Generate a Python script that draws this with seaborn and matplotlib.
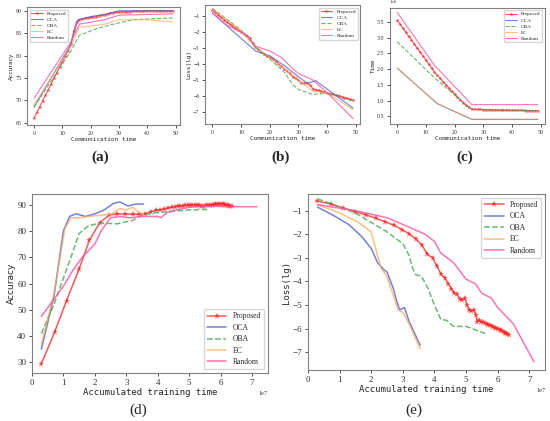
import numpy as np
import pandas as pd
import matplotlib
matplotlib.use('Agg')
import matplotlib.pyplot as plt
import seaborn as sns

# ---------------- data ----------------
methods = ['Proposed', 'OCA', 'OBA', 'EC', 'Random']
rounds = list(range(50))

# (a) accuracy vs communication time
acc_a_proposed = [66.0, 67.3, 68.6, 69.9, 71.1, 72.4, 73.6, 74.9, 76.1, 77.4,
                  78.6, 79.8, 81.0, 82.5, 85.5, 87.5, 88.0, 88.2, 88.3, 88.4,
                  88.5, 88.6, 88.7, 88.9, 89.0, 89.1, 89.3, 89.5, 89.6, 89.7,
                  89.7, 89.8, 89.8, 89.8, 89.8, 89.9, 89.9, 89.9, 89.9, 89.9,
                  90.0, 90.0, 90.0, 90.0, 90.0, 90.0, 90.0, 90.0, 90.0, 90.0]
acc_a_x = {'OCA': [0, 13, 15.5, 20, 25, 30, 49],
           'OBA': [0, 13, 16, 22, 28, 35, 49],
           'EC': [0, 13, 16, 25, 30, 40, 49],
           'Random': [0, 13, 16, 25, 30, 49]}
acc_a_y = {'OCA': [68.5, 82.5, 88.0, 88.7, 89.2, 90.0, 90.0],
           'OBA': [68.5, 81.0, 84.5, 86.0, 87.0, 88.0, 88.4],
           'EC': [69.0, 82.0, 86.3, 87.0, 88.0, 88.0, 87.5],
           'Random': [70.5, 83.0, 87.0, 88.0, 89.0, 89.3]}

# (b) loss vs communication time
loss_b_proposed = [-0.65, -0.8, -0.95, -1.1, -1.25, -1.4, -1.52, -1.65, -1.78, -1.9,
                   -2.0, -2.12, -2.25, -2.4, -2.7, -2.95, -3.1, -3.25, -3.4, -3.5,
                   -3.6, -3.7, -3.85, -4.0, -4.15, -4.3, -4.45, -4.6, -4.8, -4.9,
                   -5.0, -5.2, -5.2, -5.2, -5.3, -5.55, -5.6, -5.65, -5.7, -5.75,
                   -5.8, -5.85, -5.9, -5.95, -6.0, -6.05, -6.1, -6.15, -6.2, -6.25]
loss_b_x = {'OCA': [0, 15, 20, 25, 30, 33, 36, 49],
            'OBA': [0, 10, 15, 20, 25, 28, 30, 35, 40, 45, 49],
            'EC': [0, 10, 15, 20, 25, 30, 35, 40, 49],
            'Random': [0, 5, 12, 15, 20, 24, 28, 30, 35, 40, 49]}
loss_b_y = {'OCA': [-0.85, -3.2, -3.5, -4.1, -4.8, -5.2, -5.05, -6.75],
            'OBA': [-0.55, -1.9, -3.0, -3.7, -4.5, -5.3, -5.6, -5.9, -5.8, -6.0, -6.35],
            'EC': [-0.6, -1.95, -2.95, -3.6, -4.3, -5.0, -5.7, -5.8, -6.85],
            'Random': [-0.8, -1.6, -2.2, -2.9, -3.2, -3.6, -4.3, -4.6, -5.0, -5.8, -7.4]}

# (c) time (1e6) vs communication time
time_c_proposed = [3.55, 3.42, 3.30, 3.17, 3.04, 2.92, 2.79, 2.66, 2.54, 2.41,
                   2.28, 2.16, 2.03, 1.90, 1.80, 1.70, 1.60, 1.50, 1.40, 1.30,
                   1.20, 1.11, 1.02, 0.93, 0.85, 0.78, 0.73, 0.72, 0.72, 0.72,
                   0.71, 0.71, 0.71, 0.71, 0.70, 0.70, 0.70, 0.70, 0.70, 0.69,
                   0.69, 0.69, 0.69, 0.69, 0.69, 0.68, 0.68, 0.68, 0.68, 0.68]
time_c_x = {'OCA': [0, 14, 26, 49],
            'OBA': [0, 13, 26, 49],
            'EC': [0, 14, 26, 49],
            'Random': [0, 13, 26, 49]}
time_c_y = {'OCA': [2.03, 0.90, 0.40, 0.40],
            'OBA': [2.87, 1.72, 0.72, 0.68],
            'EC': [2.04, 0.91, 0.41, 0.41],
            'Random': [3.80, 2.12, 0.87, 0.87]}

# accumulated training time (1e7) of each Proposed round, shared by (d) and (e)
proposed_acc_time = [0.30, 0.72, 1.10, 1.50, 1.83, 2.15, 2.45, 2.72, 2.97, 3.20,
                     3.41, 3.60, 3.78, 3.94, 4.08, 4.21, 4.33, 4.44, 4.54, 4.63,
                     4.72, 4.80, 4.88, 4.96, 5.03, 5.10, 5.17, 5.24, 5.30, 5.36,
                     5.42, 5.48, 5.54, 5.60, 5.66, 5.71, 5.76, 5.81, 5.86, 5.91,
                     5.96, 6.01, 6.06, 6.11, 6.15, 6.19, 6.23, 6.27, 6.31, 6.35]

# (d) accuracy vs accumulated training time (1e7)
acc_d_proposed = [29.5, 41.5, 53.5, 65.5, 76.5, 83.0, 86.0, 86.5, 86.4, 86.3,
                  86.3, 86.6, 87.3, 87.8, 88.0, 88.3, 88.7, 89.0, 89.2, 89.4,
                  89.5, 89.6, 89.7, 89.8, 89.9, 90.0, 90.0, 89.9, 89.8, 89.6,
                  89.5, 89.6, 89.7, 89.8, 89.9, 90.0, 90.0, 90.1, 90.2, 90.3,
                  90.3, 90.4, 90.3, 90.2, 90.0, 89.9, 89.7, 89.6, 89.5, 89.4]
acc_d_x = {'OCA': [0.3, 0.7, 1.0, 1.2, 1.4, 1.7, 2.0, 2.3, 2.6, 2.8, 3.05, 3.3, 3.55],
           'OBA': [0.3, 0.7, 1.0, 1.3, 1.5, 1.8, 2.2, 2.7, 3.2, 3.5, 4.0, 4.5, 5.0, 5.5, 5.65],
           'EC': [0.3, 0.7, 1.05, 1.25, 1.5, 1.8, 2.2, 2.5, 2.8, 3.0, 3.2, 3.4, 3.55],
           'Random': [0.3, 0.7, 1.0, 1.3, 1.6, 2.0, 2.2, 2.5, 2.8, 3.1, 3.5, 4.0, 4.1,
                      4.3, 4.6, 5.0, 5.5, 6.0, 6.5, 7.15]}
acc_d_y = {'OCA': [35.0, 55.0, 80.0, 85.5, 86.5, 85.5, 86.5, 88.0, 90.5, 91.0, 89.5, 90.2, 90.2],
           'OBA': [41.0, 52.0, 62.0, 72.0, 79.0, 82.0, 83.0, 82.7, 84.0, 86.0, 87.0, 87.5,
                   88.0, 88.2, 88.0],
           'EC': [37.0, 56.0, 81.0, 85.0, 85.0, 85.5, 86.0, 86.2, 88.5, 88.0, 89.0, 87.0, 86.5],
           'Random': [47.5, 54.0, 59.0, 65.0, 70.0, 75.0, 80.0, 85.0, 85.5, 85.0, 85.5,
                      85.5, 85.0, 87.0, 88.0, 89.0, 89.5, 89.3, 89.2, 89.2]}

# (e) loss vs accumulated training time (1e7)
loss_e_proposed = [-0.60, -0.72, -0.88, -1.05, -1.18, -1.32, -1.48, -1.62, -1.80, -1.98,
                   -2.20, -2.45, -2.85, -3.00, -3.35, -3.70, -3.85, -4.10, -4.30, -4.50,
                   -4.55, -4.75, -4.80, -4.70, -5.00, -5.20, -5.25, -5.20, -5.40, -5.70,
                   -5.65, -5.70, -5.73, -5.76, -5.80, -5.83, -5.86, -5.89, -5.92, -5.95,
                   -5.98, -6.01, -6.04, -6.07, -6.10, -6.13, -6.16, -6.19, -6.22, -6.25]
loss_e_x = {'OCA': [0.3, 0.8, 1.3, 1.7, 2.0, 2.2, 2.4, 2.5, 2.7, 2.8, 2.9, 3.05, 3.2, 3.55],
            'OBA': [0.3, 1.0, 1.5, 2.0, 2.5, 3.0, 3.2, 3.3, 3.4, 3.6, 3.8, 4.0, 4.2, 4.4,
                    4.6, 5.0, 5.6],
            'EC': [0.3, 1.0, 1.6, 2.0, 2.1, 2.3, 2.5, 2.7, 2.85, 3.0, 3.2, 3.55],
            'Random': [0.3, 1.5, 2.5, 3.2, 3.7, 4.0, 4.2, 4.6, 5.0, 5.3, 5.5, 5.8, 6.0,
                       6.5, 7.15]}
loss_e_y = {'OCA': [-0.85, -1.2, -1.6, -2.1, -2.6, -3.2, -3.5, -3.6, -4.3, -4.8, -5.2,
                    -5.1, -5.7, -6.7],
            'OBA': [-0.5, -0.85, -1.1, -1.5, -1.9, -2.4, -2.9, -3.4, -3.7, -3.8, -4.3,
                    -5.0, -5.6, -5.65, -5.9, -5.9, -6.2],
            'EC': [-0.75, -1.1, -1.5, -1.9, -2.4, -3.4, -3.8, -4.6, -5.2, -5.3, -5.8, -6.85],
            'Random': [-0.75, -1.0, -1.3, -1.7, -2.0, -2.3, -2.8, -3.2, -3.9, -4.1, -4.5,
                       -4.7, -5.1, -5.8, -7.4]}

neg_labels = ['\u22121', '\u22122', '\u22123', '\u22124', '\u22125', '\u22126', '\u22127']

# ---------------- style ----------------
sns.set_style('ticks')
plt.rcParams['font.family'] = ['Liberation Serif', 'DejaVu Serif']

colors = {'Proposed': '#ff2020', 'OCA': '#4f63d2', 'OBA': '#3faa4f',
          'EC': '#ffa64d', 'Random': '#ff4fa3'}
styles = {'Proposed': '-', 'OCA': '-', 'OBA': '--', 'EC': '-', 'Random': '-'}
alphas = {'Proposed': 0.75, 'OCA': 0.8, 'OBA': 0.8, 'EC': 0.7, 'Random': 0.8}
mono = 'DejaVu Sans Mono'


def style_axes(ax, tick_size):
    for s in ax.spines.values():
        s.set_color('#808080')
        s.set_linewidth(0.8)
    ax.tick_params(colors='#333333', labelsize=tick_size, width=0.6, length=2.5,
                   direction='out', pad=1.5)


def draw_panel(ax, xs, ys, lw, ms, scale_x=1.0, scale_y=1.0):
    for m in methods:
        kw = dict(color=colors[m], linestyle=styles[m], alpha=alphas[m], lw=lw, label=m)
        if m == 'Proposed':
            kw.update(marker='*', markersize=ms, markeredgewidth=0)
        sns.lineplot(x=np.array(xs[m]) * scale_x, y=np.array(ys[m]) * scale_y, ax=ax,
                     sort=False, estimator=None, **kw)


def small_panel(ax, xs, ys, ylabel, ylabel_family, legend_loc, scale_y=1.0):
    draw_panel(ax, xs, ys, lw=0.8, ms=3, scale_y=scale_y)
    ax.set_xlim(-2.5, 51.5)
    ax.set_xticks([0, 10, 20, 30, 40, 50])
    ax.set_xlabel('Communication time', family=mono, fontsize=4.3, labelpad=1)
    ax.set_ylabel(ylabel, family=ylabel_family, fontsize=4.3, labelpad=1)
    style_axes(ax, 4.2)
    ax.legend(loc=legend_loc, fontsize=3.8, frameon=True, handlelength=2.2,
              borderpad=0.3, labelspacing=0.25)


def big_panel(ax, xs, ys, ylabel, ylabel_family, legend_loc):
    draw_panel(ax, xs, ys, lw=1.1, ms=5, scale_x=1e7)
    ax.set_xlim(0, 7.5e7)
    ax.set_xticks([i * 1e7 for i in range(8)])
    ax.set_xlabel('Accumulated training time', family=mono, fontsize=6.5, labelpad=1)
    ax.set_ylabel(ylabel, family=ylabel_family, fontsize=6.5, labelpad=1)
    style_axes(ax, 6.5)
    ax.xaxis.get_offset_text().set_fontsize(4.5)
    ax.legend(loc=legend_loc, fontsize=5.5, frameon=True, handlelength=2.6,
              borderpad=0.4, labelspacing=0.45)


fig = plt.figure(figsize=(5.5, 4.21), dpi=100)

# (a)
ax_a = fig.add_axes([0.049, 0.703, 0.278, 0.280])
small_panel(ax_a, {'Proposed': rounds, **acc_a_x}, {'Proposed': acc_a_proposed, **acc_a_y},
            'Accuracy', 'DejaVu Sans', 'upper left')
ax_a.set_ylim(64.5, 90.8)
ax_a.set_yticks([65, 70, 75, 80, 85, 90])

# (b)
ax_b = fig.add_axes([0.373, 0.705, 0.282, 0.283])
small_panel(ax_b, {'Proposed': rounds, **loss_b_x}, {'Proposed': loss_b_proposed, **loss_b_y},
            'Loss(lg)', mono, 'upper right')
ax_b.set_ylim(-7.75, -0.35)
ax_b.set_yticks([-1, -2, -3, -4, -5, -6, -7])
ax_b.set_yticklabels(neg_labels)

# (c)
ax_c = fig.add_axes([0.709, 0.705, 0.282, 0.277])
small_panel(ax_c, {'Proposed': rounds, **time_c_x}, {'Proposed': time_c_proposed, **time_c_y},
            'Time', mono, 'upper right', scale_y=1e6)
ax_c.set_ylim(0.25e6, 3.95e6)
ax_c.set_yticks([0.5e6, 1.0e6, 1.5e6, 2.0e6, 2.5e6, 3.0e6, 3.5e6])
ax_c.yaxis.get_offset_text().set_fontsize(3.5)

# (d)
ax_d = fig.add_axes([0.058, 0.114, 0.429, 0.425])
big_panel(ax_d, {'Proposed': proposed_acc_time, **acc_d_x},
          {'Proposed': acc_d_proposed, **acc_d_y}, 'Accuracy', 'DejaVu Sans', 'lower right')
ax_d.set_ylim(26, 94)
ax_d.set_yticks([30, 40, 50, 60, 70, 80, 90])

# (e)
ax_e = fig.add_axes([0.56, 0.121, 0.431, 0.418])
big_panel(ax_e, {'Proposed': proposed_acc_time, **loss_e_x},
          {'Proposed': loss_e_proposed, **loss_e_y}, 'Loss(lg)', mono, 'upper right')
ax_e.set_ylim(-7.75, -0.3)
ax_e.set_yticks([-1, -2, -3, -4, -5, -6, -7])
ax_e.set_yticklabels(neg_labels)

# panel letters
for x, y, t in [(0.182, 0.627, '(a)'), (0.51, 0.627, '(b)'), (0.845, 0.627, '(c)'),
                (0.252, 0.026, '(d)'), (0.752, 0.026, '(e)')]:
    fig.text(x, y, t, ha='center', va='center', fontsize=11,
             fontweight='bold' if t in ('(a)', '(b)', '(c)') else 'normal')

fig.savefig('out.png', dpi=100)
